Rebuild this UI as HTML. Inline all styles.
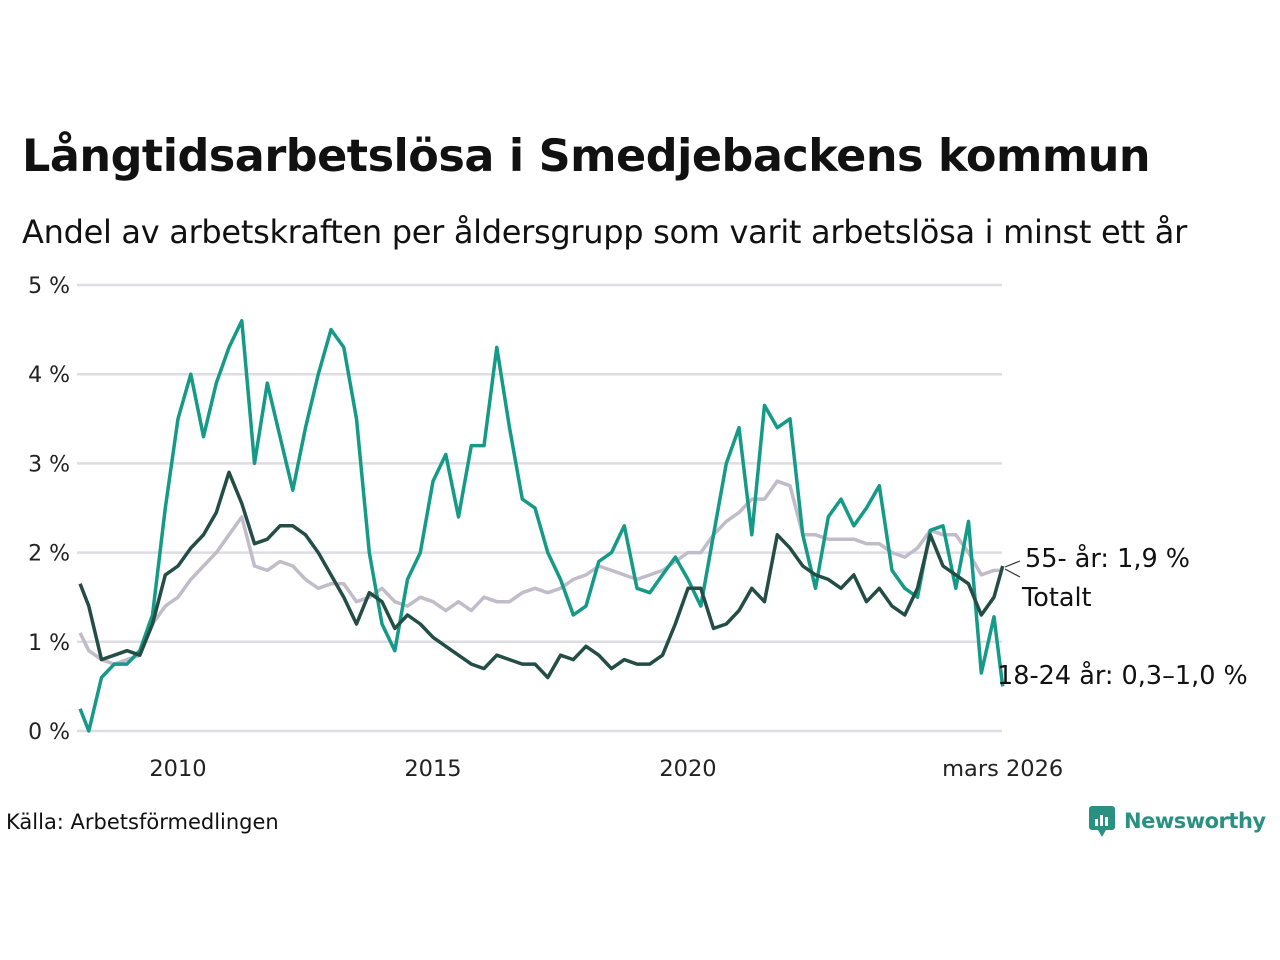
<!DOCTYPE html>
<html><head><meta charset="utf-8">
<style>
body{margin:0;width:1280px;height:960px;background:#fff;font-family:"Liberation Sans","DejaVu Sans",sans-serif;color:#111;position:relative;overflow:hidden}
#title{position:absolute;left:22px;top:131px;font-size:44.5px;font-weight:bold;font-family:"DejaVu Sans","Liberation Sans",sans-serif;letter-spacing:-0.5px;white-space:nowrap}
#subtitle{position:absolute;left:22px;top:213px;font-size:32px;font-family:"DejaVu Sans","Liberation Sans",sans-serif;letter-spacing:-0.3px;white-space:nowrap}
#source{position:absolute;left:6px;top:810px;font-size:21px;font-family:"DejaVu Sans",sans-serif}
#logo{position:absolute;left:1088px;top:804px;font-size:21px;font-weight:bold;color:#2a9182;font-family:"DejaVu Sans",sans-serif;white-space:nowrap;letter-spacing:-0.5px}
</style></head><body>
<div id="title">Långtidsarbetslösa i Smedjebackens kommun</div>
<div id="subtitle">Andel av arbetskraften per åldersgrupp som varit arbetslösa i minst ett år</div>
<svg id="chart" width="1280" height="960" style="position:absolute;left:0;top:0"></svg>
<div id="source">Källa: Arbetsförmedlingen</div>
<div id="logo"><svg width="30" height="34" style="vertical-align:-10px;margin-right:6px"><rect x="1" y="2" width="26" height="24" rx="3" fill="#2a9182"/><path d="M10 26 L14 33 L18 26Z" fill="#2a9182"/><rect x="7" y="15" width="3" height="7" fill="#fff"/><rect x="12" y="11" width="3" height="11" fill="#fff"/><rect x="17" y="13" width="3" height="9" fill="#fff"/></svg>Newsworthy</div>
<script>
const dates=[2008.08,2008.25,2008.5,2008.75,2009,2009.25,2009.5,2009.75,2010,2010.25,2010.5,2010.75,2011,2011.25,2011.5,2011.75,2012,2012.25,2012.5,2012.75,2013,2013.25,2013.5,2013.75,2014,2014.25,2014.5,2014.75,2015,2015.25,2015.5,2015.75,2016,2016.25,2016.5,2016.75,2017,2017.25,2017.5,2017.75,2018,2018.25,2018.5,2018.75,2019,2019.25,2019.5,2019.75,2020,2020.25,2020.5,2020.75,2021,2021.25,2021.5,2021.75,2022,2022.25,2022.5,2022.75,2023,2023.25,2023.5,2023.75,2024,2024.25,2024.5,2024.75,2025,2025.25,2025.5,2025.75,2026,2026.17];
const youth=[0.25,0,0.6,0.75,0.75,0.9,1.3,2.5,3.5,4.0,3.3,3.9,4.3,4.6,3.0,3.9,3.3,2.7,3.4,4.0,4.5,4.3,3.5,2.0,1.2,0.9,1.7,2.0,2.8,3.1,2.4,3.2,3.2,4.3,3.4,2.6,2.5,2.0,1.7,1.3,1.4,1.9,2.0,2.3,1.6,1.55,1.75,1.95,1.7,1.4,2.2,3.0,3.4,2.2,3.65,3.4,3.5,2.2,1.6,2.4,2.6,2.3,2.5,2.75,1.8,1.6,1.5,2.25,2.3,1.6,2.35,0.65,1.28,0.5];
const total=[1.65,1.4,0.8,0.85,0.9,0.85,1.2,1.75,1.85,2.05,2.2,2.45,2.9,2.55,2.1,2.15,2.3,2.3,2.2,2.0,1.75,1.5,1.2,1.55,1.45,1.15,1.3,1.2,1.05,0.95,0.85,0.75,0.7,0.85,0.8,0.75,0.75,0.6,0.85,0.8,0.95,0.85,0.7,0.8,0.75,0.75,0.85,1.2,1.6,1.6,1.15,1.2,1.35,1.6,1.45,2.2,2.05,1.85,1.75,1.7,1.6,1.75,1.45,1.6,1.4,1.3,1.6,2.2,1.85,1.75,1.65,1.3,1.5,1.85];
const senior=[1.1,0.9,0.8,0.75,0.8,0.85,1.2,1.4,1.5,1.7,1.85,2.0,2.2,2.4,1.85,1.8,1.9,1.85,1.7,1.6,1.65,1.65,1.45,1.5,1.6,1.45,1.4,1.5,1.45,1.35,1.45,1.35,1.5,1.45,1.45,1.55,1.6,1.55,1.6,1.7,1.75,1.85,1.8,1.75,1.7,1.75,1.8,1.9,2.0,2.0,2.2,2.35,2.45,2.6,2.6,2.8,2.75,2.2,2.2,2.15,2.15,2.15,2.1,2.1,2.0,1.95,2.05,2.25,2.2,2.2,2.0,1.75,1.8,1.8];
const yTicks=[0,1,2,3,4,5];
const yTickLabels=["0 %","1 %","2 %","3 %","4 %","5 %"];
const xTicks=[2010,2015,2020,2026.17];
const xTickLabels=["2010","2015","2020","mars 2026"];

const NS="http://www.w3.org/2000/svg";
const svg=document.getElementById('chart');
const X=t=>178+(t-2010)*51;
const Y=v=>731-v*89.2;
function mk(tag,attrs){const e=document.createElementNS(NS,tag);for(const k in attrs)e.setAttribute(k,attrs[k]);svg.appendChild(e);return e;}
yTicks.forEach((v,i)=>{
  const g=mk('line',{x1:77,x2:1002,y1:Y(v),y2:Y(v),stroke:'#dedde3','stroke-width':2.5});
  
  
  const t=mk('text',{x:70,y:Y(v)+8,'text-anchor':'end','font-size':22,'font-family':'DejaVu Sans,sans-serif',fill:'#222'});
  t.textContent=yTickLabels[i];
  
  
});
xTicks.forEach((v,i)=>{
  const t=mk('text',{x:X(v),y:776,'text-anchor':'middle','font-size':22.5,'font-family':'DejaVu Sans,sans-serif',fill:'#222'});
  t.textContent=xTickLabels[i];
  
  
});
function line(vals,color,name){
  const d=vals.map((v,i)=>(i?'L':'M')+X(dates[i]).toFixed(1)+' '+Y(v).toFixed(1)).join(' ');
  const p=mk('path',{d:d,fill:'none',stroke:color,'stroke-width':3.5,'stroke-linejoin':'round'});
  
  
}
line(senior,'#c0bcc9','series-55-plus');
line(youth,'#159a87','series-18-24');
line(total,'#234d45','series-totalt');
function lbl(x,y,txt,name){const t=mk('text',{x:x,y:y,'font-size':25.5,'font-family':'DejaVu Sans,sans-serif',fill:'#111'});t.textContent=txt;
  
  }
mk('path',{d:'M1005 567 L1020 561',stroke:'#333','stroke-width':1.2,fill:'none'});
mk('path',{d:'M1005 569 L1020 577',stroke:'#333','stroke-width':1.2,fill:'none'});
lbl(1025,567,'55- år: 1,9 %','label-55-plus');
lbl(1022,606,'Totalt','label-totalt');
lbl(997,684,'18-24 år: 0,3–1,0 %','label-18-24');
</script>
</body></html>
